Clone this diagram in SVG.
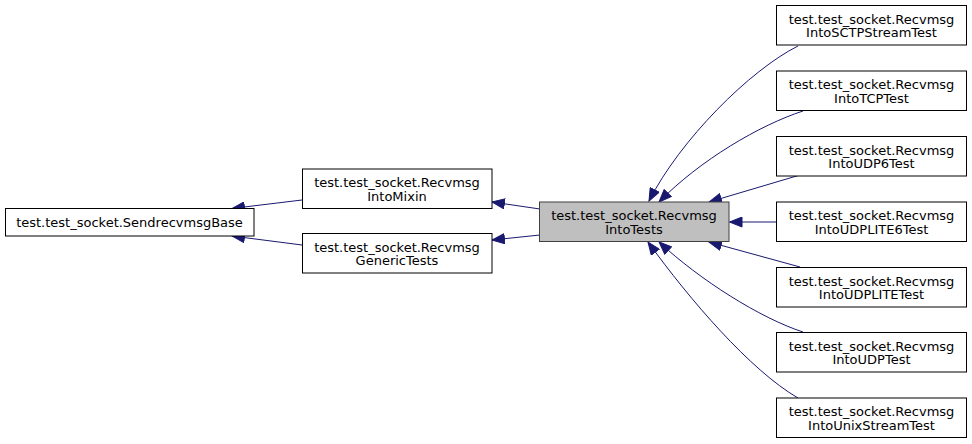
<svg xmlns="http://www.w3.org/2000/svg" width="972" height="444" viewBox="0 0 972 444">
<style>
.n{fill:#ffffff;stroke:#000000;stroke-width:1}
.h{fill:#bfbfbf;stroke:#404040;stroke-width:1}
text{font-family:"DejaVu Sans","Liberation Sans",sans-serif;font-size:13px;fill:#000000;text-anchor:middle}
.e{fill:none;stroke:#191970;stroke-width:1;marker-end:url(#a)}
</style>
<defs>
<marker id="a" markerUnits="userSpaceOnUse" markerWidth="14" markerHeight="11" refX="13" refY="5.5" orient="auto" viewBox="0 0 14 11">
<path d="M0.5,0.5 L13,5.5 L0.5,10.5 z" fill="#191970" stroke="#191970" stroke-width="1"/>
</marker>
</defs>
<rect width="972" height="444" fill="#ffffff"/>
<g id="connectors">
<path class="e" d="M302,200 L232,208.5"/>
<path class="e" d="M302,245 L232,236"/>
<path class="e" d="M540,209 L492,202"/>
<path class="e" d="M540,235 L492,240"/>
<path class="e" d="M798,46 C750,70 680,140 649,201"/>
<path class="e" d="M803,111 C760,125 700,160 659,202"/>
<path class="e" d="M800,175 L709,202"/>
<path class="e" d="M776,222 L729.5,222"/>
<path class="e" d="M800,267 L709,242"/>
<path class="e" d="M803,332 C760,318 700,280 659,242"/>
<path class="e" d="M798,398 C750,370 690,300 648,242"/>
</g>
<g id="SendrecvmsgBase">
<rect class="n" x="5.5" y="208.5" width="248.5" height="27.5"/>
<text x="129.5" y="226.5">test.test_socket.SendrecvmsgBase</text>
</g>
<g id="RecvmsgIntoMixin">
<rect class="n" x="302.5" y="169" width="189.5" height="39.5"/>
<text x="397" y="187">test.test_socket.Recvmsg</text>
<text x="397" y="200.5">IntoMixin</text>
</g>
<g id="RecvmsgGenericTests">
<rect class="n" x="302.5" y="233.5" width="189.5" height="39.5"/>
<text x="397" y="251.5">test.test_socket.Recvmsg</text>
<text x="397" y="265">GenericTests</text>
</g>
<g id="RecvmsgIntoTests">
<rect class="h" x="539.5" y="202" width="189.5" height="39.5"/>
<text x="634" y="220">test.test_socket.Recvmsg</text>
<text x="634" y="233.5">IntoTests</text>
</g>
<g id="RecvmsgIntoSCTPStreamTest">
<rect class="n" x="776.5" y="5.5" width="190" height="39.5"/>
<text x="871.5" y="23.5">test.test_socket.Recvmsg</text>
<text x="871.5" y="37">IntoSCTPStreamTest</text>
</g>
<g id="RecvmsgIntoTCPTest">
<rect class="n" x="776.5" y="71" width="190" height="39.5"/>
<text x="871.5" y="89">test.test_socket.Recvmsg</text>
<text x="871.5" y="102.5">IntoTCPTest</text>
</g>
<g id="RecvmsgIntoUDP6Test">
<rect class="n" x="776.5" y="136.5" width="190" height="39.5"/>
<text x="871.5" y="154.5">test.test_socket.Recvmsg</text>
<text x="871.5" y="168">IntoUDP6Test</text>
</g>
<g id="RecvmsgIntoUDPLITE6Test">
<rect class="n" x="776.5" y="202" width="190" height="39.5"/>
<text x="871.5" y="220">test.test_socket.Recvmsg</text>
<text x="871.5" y="233.5">IntoUDPLITE6Test</text>
</g>
<g id="RecvmsgIntoUDPLITETest">
<rect class="n" x="776.5" y="267.5" width="190" height="39.5"/>
<text x="871.5" y="285.5">test.test_socket.Recvmsg</text>
<text x="871.5" y="299">IntoUDPLITETest</text>
</g>
<g id="RecvmsgIntoUDPTest">
<rect class="n" x="776.5" y="332.5" width="190" height="39.5"/>
<text x="871.5" y="350.5">test.test_socket.Recvmsg</text>
<text x="871.5" y="364">IntoUDPTest</text>
</g>
<g id="RecvmsgIntoUnixStreamTest">
<rect class="n" x="776.5" y="398" width="190" height="39.5"/>
<text x="871.5" y="416">test.test_socket.Recvmsg</text>
<text x="871.5" y="429.5">IntoUnixStreamTest</text>
</g>
</svg>
